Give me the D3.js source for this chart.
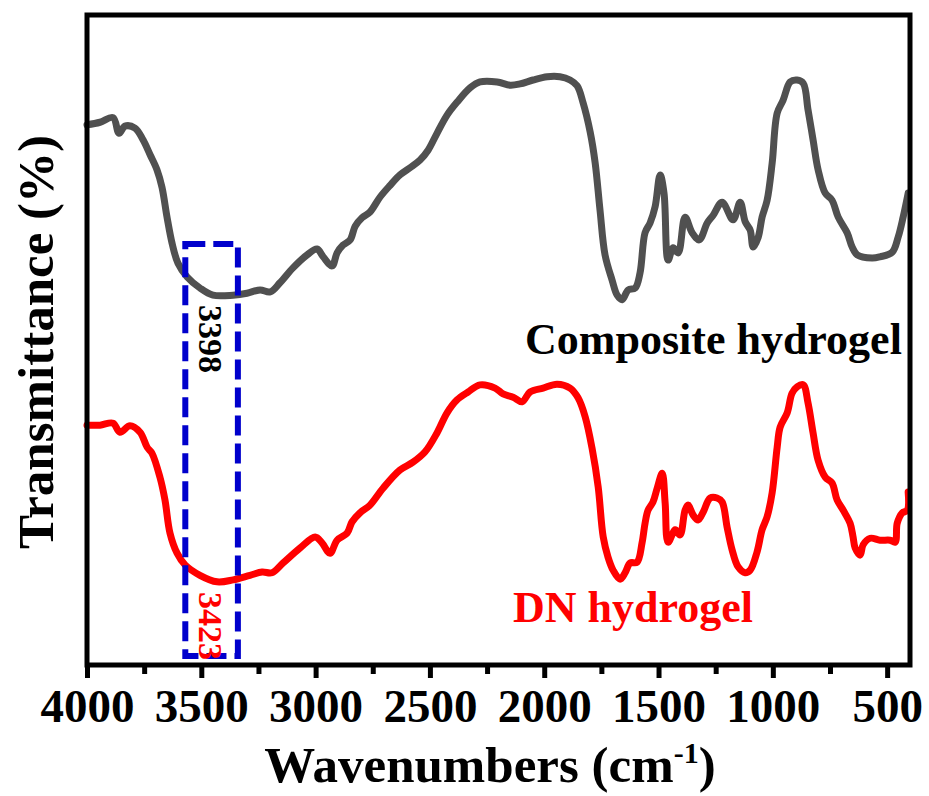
<!DOCTYPE html>
<html>
<head>
<meta charset="utf-8">
<script src="https://cdn.jsdelivr.net/npm/d3@7/dist/d3.min.js"></script>
<style>
  html, body { margin: 0; padding: 0; background: #fff; }
  svg { display: block; }
  text { font-family: "Liberation Serif", "Times New Roman", serif; font-weight: bold; }
</style>
</head>
<body>
<svg id="chart" width="929" height="796"></svg>
<script>
// FTIR spectra: wavenumber (cm-1) and relative transmittance (offset, arbitrary %)
const compositeWavenumber = [4000, 3943, 3886, 3860, 3834, 3790, 3755, 3724, 3694, 3672, 3650, 3628, 3602, 3562, 3506, 3449, 3361, 3300, 3243, 3199, 3156, 3099, 3037, 2994, 2967, 2928, 2906, 2880, 2849, 2827, 2797, 2762, 2718, 2674, 2631, 2587, 2543, 2508, 2469, 2425, 2381, 2324, 2281, 2206, 2149, 2106, 2049, 1987, 1931, 1887, 1856, 1830, 1799, 1777, 1756, 1734, 1703, 1681, 1659, 1633, 1602, 1581, 1559, 1537, 1515, 1493, 1476, 1458, 1436, 1414, 1384, 1353, 1322, 1287, 1261, 1222, 1174, 1143, 1121, 1099, 1086, 1064, 1047, 1025, 1003, 981, 955, 924, 894, 867, 846, 824, 802, 771, 741, 714, 675, 653, 631, 566, 531, 478, 452, 430, 408];
const compositeTransmittance = [83.1, 83.5, 84.2, 81.8, 82.9, 82.6, 80.8, 78.5, 76.2, 73.5, 68.9, 64.9, 61.8, 59.7, 58.0, 56.9, 56.9, 57.2, 57.7, 57.4, 58.8, 61.1, 63.1, 64.0, 62.8, 61.4, 63.4, 64.6, 65.4, 67.5, 68.8, 69.7, 72.0, 73.8, 75.4, 76.5, 77.7, 79.2, 81.8, 84.6, 86.6, 88.8, 89.7, 89.7, 89.2, 89.4, 90.0, 90.5, 90.5, 90.0, 89.1, 86.5, 82.0, 77.2, 70.0, 63.1, 59.2, 56.9, 56.2, 57.7, 58.0, 60.3, 66.5, 68.0, 70.5, 75.4, 72.6, 62.3, 64.2, 63.4, 68.9, 66.5, 65.4, 68.0, 69.2, 71.2, 68.5, 71.2, 68.2, 66.9, 64.3, 65.8, 68.9, 71.5, 77.2, 84.9, 86.9, 89.7, 90.0, 89.5, 85.4, 80.8, 76.2, 72.6, 71.5, 68.9, 66.5, 64.3, 63.1, 62.6, 62.8, 63.5, 65.8, 68.9, 72.6];

const dnWavenumber = [4000, 3943, 3886, 3856, 3812, 3768, 3737, 3716, 3681, 3659, 3637, 3606, 3571, 3506, 3431, 3361, 3287, 3234, 3191, 3142, 3068, 3002, 2972, 2937, 2906, 2862, 2841, 2806, 2762, 2705, 2631, 2574, 2521, 2469, 2425, 2381, 2333, 2281, 2215, 2180, 2136, 2097, 2062, 2005, 1944, 1887, 1852, 1821, 1791, 1764, 1742, 1721, 1699, 1668, 1646, 1624, 1594, 1572, 1559, 1546, 1524, 1506, 1484, 1471, 1458, 1427, 1406, 1384, 1371, 1349, 1327, 1305, 1274, 1244, 1222, 1200, 1178, 1152, 1121, 1099, 1069, 1047, 1025, 1003, 981, 968, 937, 916, 894, 867, 846, 824, 802, 771, 741, 719, 692, 662, 649, 640, 618, 605, 574, 531, 487, 465, 456, 434, 412, 408];
const dnTransmittance = [36.9, 36.9, 37.2, 35.8, 36.8, 35.8, 33.5, 32.6, 28.9, 25.4, 20.3, 17.2, 15.4, 13.8, 12.8, 13.1, 13.8, 14.3, 14.2, 15.7, 18.0, 19.7, 18.8, 17.2, 19.2, 20.3, 22.0, 23.4, 24.6, 27.2, 30.0, 31.2, 32.8, 35.7, 38.8, 40.8, 42.0, 43.1, 42.6, 41.7, 41.2, 40.5, 42.0, 42.6, 43.2, 42.6, 41.1, 38.2, 33.4, 27.4, 19.7, 16.6, 14.6, 13.2, 14.2, 15.7, 15.8, 18.8, 21.8, 23.8, 25.1, 27.2, 29.5, 24.9, 18.9, 20.8, 20.0, 23.8, 24.6, 23.1, 22.3, 23.5, 25.7, 25.7, 25.1, 21.2, 17.7, 15.1, 14.2, 14.6, 17.4, 20.8, 22.8, 26.5, 33.5, 36.6, 38.8, 41.8, 42.8, 43.1, 40.3, 35.7, 31.5, 28.9, 28.0, 25.4, 23.8, 21.8, 19.7, 18.0, 16.9, 18.5, 19.5, 19.2, 19.2, 18.9, 21.8, 23.4, 23.8, 26.6];

const majorTicks = [4000, 3500, 3000, 2500, 2000, 1500, 1000, 500];
const minorTicks = [3750, 3250, 2750, 2250, 1750, 1250, 750];

const peakLabels = ["3398", "3423"];
const seriesNames = ["Composite hydrogel", "DN hydrogel"];

const svg = d3.select("#chart");
const plot = { left: 87, right: 910, top: 15, bottom: 665 };

const x = d3.scaleLinear().domain([4000, 400]).range([plot.left, plot.right]);
const y = d3.scaleLinear().domain([0, 100]).range([plot.bottom, plot.top]);

const line = d3.line()
  .x(d => x(d[0]))
  .y(d => y(d[1]))
  .curve(d3.curveCatmullRom.alpha(0.5));

const composite = compositeWavenumber.map((w, i) => [w, compositeTransmittance[i]]);
const dn = dnWavenumber.map((w, i) => [w, dnTransmittance[i]]);

svg.append("path").datum(composite)
  .attr("d", line)
  .attr("fill", "none")
  .attr("stroke", "#505050")
  .attr("stroke-width", 7)
  .attr("stroke-linejoin", "round")
  .attr("stroke-linecap", "round");

svg.append("path").datum(dn)
  .attr("d", line)
  .attr("fill", "none")
  .attr("stroke", "#ff0000")
  .attr("stroke-width", 7)
  .attr("stroke-linejoin", "round")
  .attr("stroke-linecap", "round");

// dashed box marking the O-H stretching region
svg.append("rect")
  .attr("x", x(3570)).attr("y", 244)
  .attr("width", x(3340) - x(3570)).attr("height", 412)
  .attr("fill", "none")
  .attr("stroke", "#0000cc")
  .attr("stroke-width", 6)
  .attr("stroke-dasharray", "20,8");

// frame
svg.append("rect")
  .attr("x", plot.left).attr("y", plot.top)
  .attr("width", plot.right - plot.left).attr("height", plot.bottom - plot.top)
  .attr("fill", "none")
  .attr("stroke", "#000")
  .attr("stroke-width", 5);

// bottom axis ticks
const axisMajor = d3.axisBottom(x).tickValues(majorTicks).tickSize(13).tickFormat(d3.format("d"));
const gMajor = svg.append("g").attr("transform", `translate(0,${plot.bottom})`).call(axisMajor);
gMajor.select(".domain").remove();
gMajor.selectAll(".tick line").attr("stroke", "#000").attr("stroke-width", 5);
gMajor.selectAll(".tick text")
  .attr("y", 57).attr("dy", null)
  .attr("fill", "#000")
  .style("font-size", "47px")
  .style("font-family", "'Liberation Serif', 'Times New Roman', serif")
  .style("font-weight", "bold");

const axisMinor = d3.axisBottom(x).tickValues(minorTicks).tickSize(9).tickFormat("");
const gMinor = svg.append("g").attr("transform", `translate(0,${plot.bottom})`).call(axisMinor);
gMinor.select(".domain").remove();
gMinor.selectAll(".tick line").attr("stroke", "#000").attr("stroke-width", 5);

// axis titles
const xTitle = svg.append("text")
  .attr("x", 490).attr("y", 782)
  .attr("text-anchor", "middle")
  .style("font-size", "51px");
xTitle.append("tspan").text("Wavenumbers (cm");
xTitle.append("tspan").attr("dy", -19).style("font-size", "30px").text("-1");
xTitle.append("tspan").attr("dy", 19).text(")");

svg.append("text")
  .attr("transform", "translate(53,342) rotate(-90)")
  .attr("text-anchor", "middle")
  .style("font-size", "51px")
  .text("Transmittance (%)");

// series labels
svg.append("text")
  .attr("x", 525).attr("y", 354)
  .attr("fill", "#000")
  .style("font-size", "44px")
  .text(seriesNames[0]);

svg.append("text")
  .attr("x", 513).attr("y", 622)
  .attr("fill", "#ff0000")
  .style("font-size", "44px")
  .text(seriesNames[1]);

// peak position labels
svg.append("text")
  .attr("transform", "translate(199,305) rotate(90)")
  .attr("fill", "#000")
  .style("font-size", "34px")
  .text(peakLabels[0]);

svg.append("text")
  .attr("transform", "translate(199,592) rotate(90)")
  .attr("fill", "#ff0000")
  .style("font-size", "34px")
  .text(peakLabels[1]);
</script>
</body>
</html>
